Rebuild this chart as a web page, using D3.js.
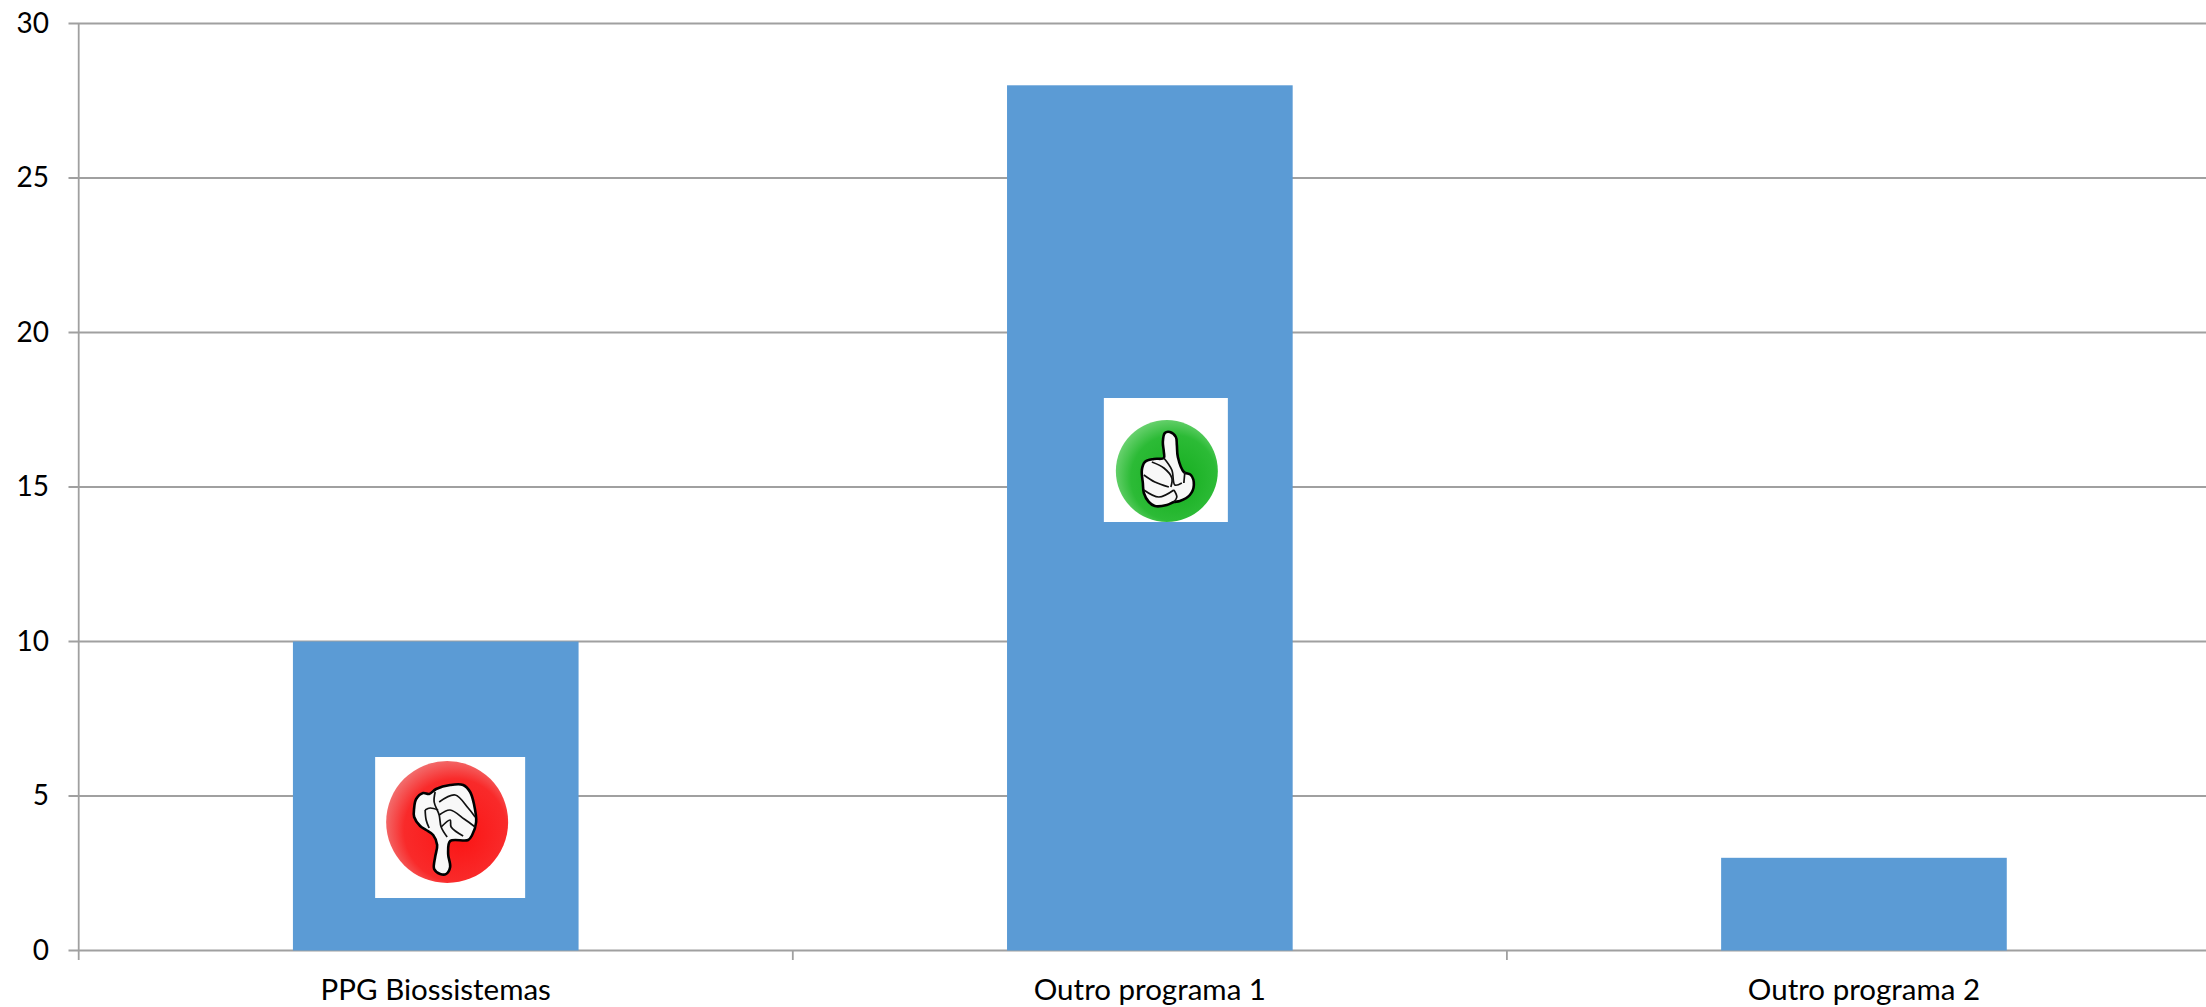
<!DOCTYPE html>
<html><head><meta charset="utf-8">
<script src="https://cdnjs.cloudflare.com/ajax/libs/d3/7.8.5/d3.min.js"></script>
<style>html,body{margin:0;padding:0;background:#fff;overflow:hidden}svg{display:block}text{font-family:Lato,"Open Sans",sans-serif;fill:#000}</style>
</head><body><svg id="c" width="2206" height="1007"></svg>
<script>
const categories = ["PPG Biossistemas","Outro programa 1","Outro programa 2"];
const values = [10,28,3];
const yTicks = [0,5,10,15,20,25,30];
const icons = [
 {cat:"PPG Biossistemas",kind:"down"},
 {cat:"Outro programa 1",kind:"up"}
];
const svg = d3.select("#c");
const axisColor = "#a0a0a0";
const x = d3.scaleBand().domain(categories).range([78.7,2221]).paddingInner(0).paddingOuter(0);
const y = d3.scaleLinear().domain([0,30]).range([950.5,23.5]);
const barW = x.bandwidth()*0.4;

svg.append("g").selectAll("line").data(yTicks).join("line")
 .attr("x1",68.5).attr("x2",2206).attr("y1",d=>y(d)).attr("y2",d=>y(d))
 .attr("stroke",axisColor).attr("stroke-width",1.8);
svg.append("line").attr("x1",78.7).attr("x2",78.7).attr("y1",y(30)).attr("y2",960)
 .attr("stroke",axisColor).attr("stroke-width",1.8);
svg.append("g").selectAll("line").data(categories.slice(1)).join("line")
 .attr("x1",d=>x(d)).attr("x2",d=>x(d)).attr("y1",y(0)).attr("y2",960)
 .attr("stroke",axisColor).attr("stroke-width",1.8);

svg.append("g").selectAll("rect").data(categories).join("rect")
 .attr("x",d=>x(d)+x.bandwidth()/2-barW/2).attr("width",barW)
 .attr("y",(d,i)=>y(values[i])).attr("height",(d,i)=>y(0)-y(values[i]))
 .attr("fill","#5b9bd5");

svg.append("g").selectAll("text").data(yTicks).join("text")
 .attr("x",49).attr("y",d=>y(d)+9).attr("text-anchor","end")
 .attr("font-size",28).text(d=>d);
svg.append("g").selectAll("text").data(categories).join("text")
 .attr("x",d=>x(d)+x.bandwidth()/2).attr("y",1000).attr("text-anchor","middle")
 .attr("font-size",29.5).text(d=>d);

// Icons: white card, glossy disc, hand outline (local px, origin at disc centre)
const defs = svg.append("defs");
function grad(id,inner,mid,edge){
 const g=defs.append("radialGradient").attr("id",id).attr("cx","0.55").attr("cy","0.55").attr("r","0.56").attr("fx","0.62").attr("fy","0.62");
 g.append("stop").attr("offset","0").attr("stop-color",inner);
 g.append("stop").attr("offset","0.75").attr("stop-color",mid);
 g.append("stop").attr("offset","1").attr("stop-color",edge);
}
grad("gr","#fb1414","#f92a2a","#f26a6a");
grad("gg","#14ad1e","#2cbb36","#66d06c");
const lineGen = d3.line().curve(d3.curveCatmullRomClosed.alpha(0.5));
const openGen = d3.line().curve(d3.curveCatmullRom.alpha(0.5));
const spec = {
 down:{box:[-72,-65,150,141],r:61,fill:"url(#gr)",dx:11.4,cy:822,
  hand:[[-7,52],[-13,47],[-12,35],[-10,23],[-14,13],[-21,8],[-27,4],[-33,-5],[-33,-14],[-31,-23],[-24,-29],[-18,-28],[-11,-33],[3,-37],[16,-37],[23,-30],[27,-17],[29,0],[25,13],[21,18],[3,19],[1,32],[3,45],[-1,52]],
  inner:[[[-12,-30],[-13,-20],[-8,-7],[-6,5],[0,15]],[[-8,-20],[8,-27],[21,-14],[28,-5]],[[-8,-7],[3,-12],[17,-3],[28,5]],[[-6,5],[3,-2],[4,5],[16,14]],[[-22,-12],[-17,-14],[-9,-12]],[[-22,-12],[-21,-2],[-18,6]]]},
 up:{box:[-63,-73,124,124],r:51,fill:"url(#gg)",dx:17,cy:471,
  hand:[[3,-39],[9,-34],[10,-26],[11,-14],[17,1],[24,4],[27,14],[23,24],[13,30],[7,31],[0,34],[-12,35],[-18,31],[-23,22],[-24,12],[-25,-1],[-22,-9],[-13,-12],[-3,-13],[-3,-19],[-4,-29],[-2,-38]],
  inner:[[[-23,4],[-12,11],[2,16]],[[-23,19],[-8,26],[7,19]],[[-15,-9],[-3,-3],[5,7],[4,16]],[[-3,-13],[5,-1],[8,14],[15,12]],[[7,19],[10,26],[7,31]],[[18,1],[17,12]]]}
};
icons.forEach(ic=>{
 const s=spec[ic.kind];
 const g=svg.append("g").attr("transform",`translate(${x(ic.cat)+x.bandwidth()/2+s.dx},${s.cy})`);
 g.append("rect").attr("x",s.box[0]).attr("y",s.box[1]).attr("width",s.box[2]).attr("height",s.box[3]).attr("fill","#fff");
 g.append("circle").attr("r",s.r).attr("fill",s.fill);
 g.append("path").attr("d",lineGen(s.hand)).attr("fill","#f8f8f8").attr("stroke","#000").attr("stroke-width",2.6).attr("stroke-linejoin","round");
 s.inner.forEach(p=>g.append("path").attr("d",openGen(p)).attr("fill","none").attr("stroke","#111").attr("stroke-width",1.7));
});
</script></body></html>
